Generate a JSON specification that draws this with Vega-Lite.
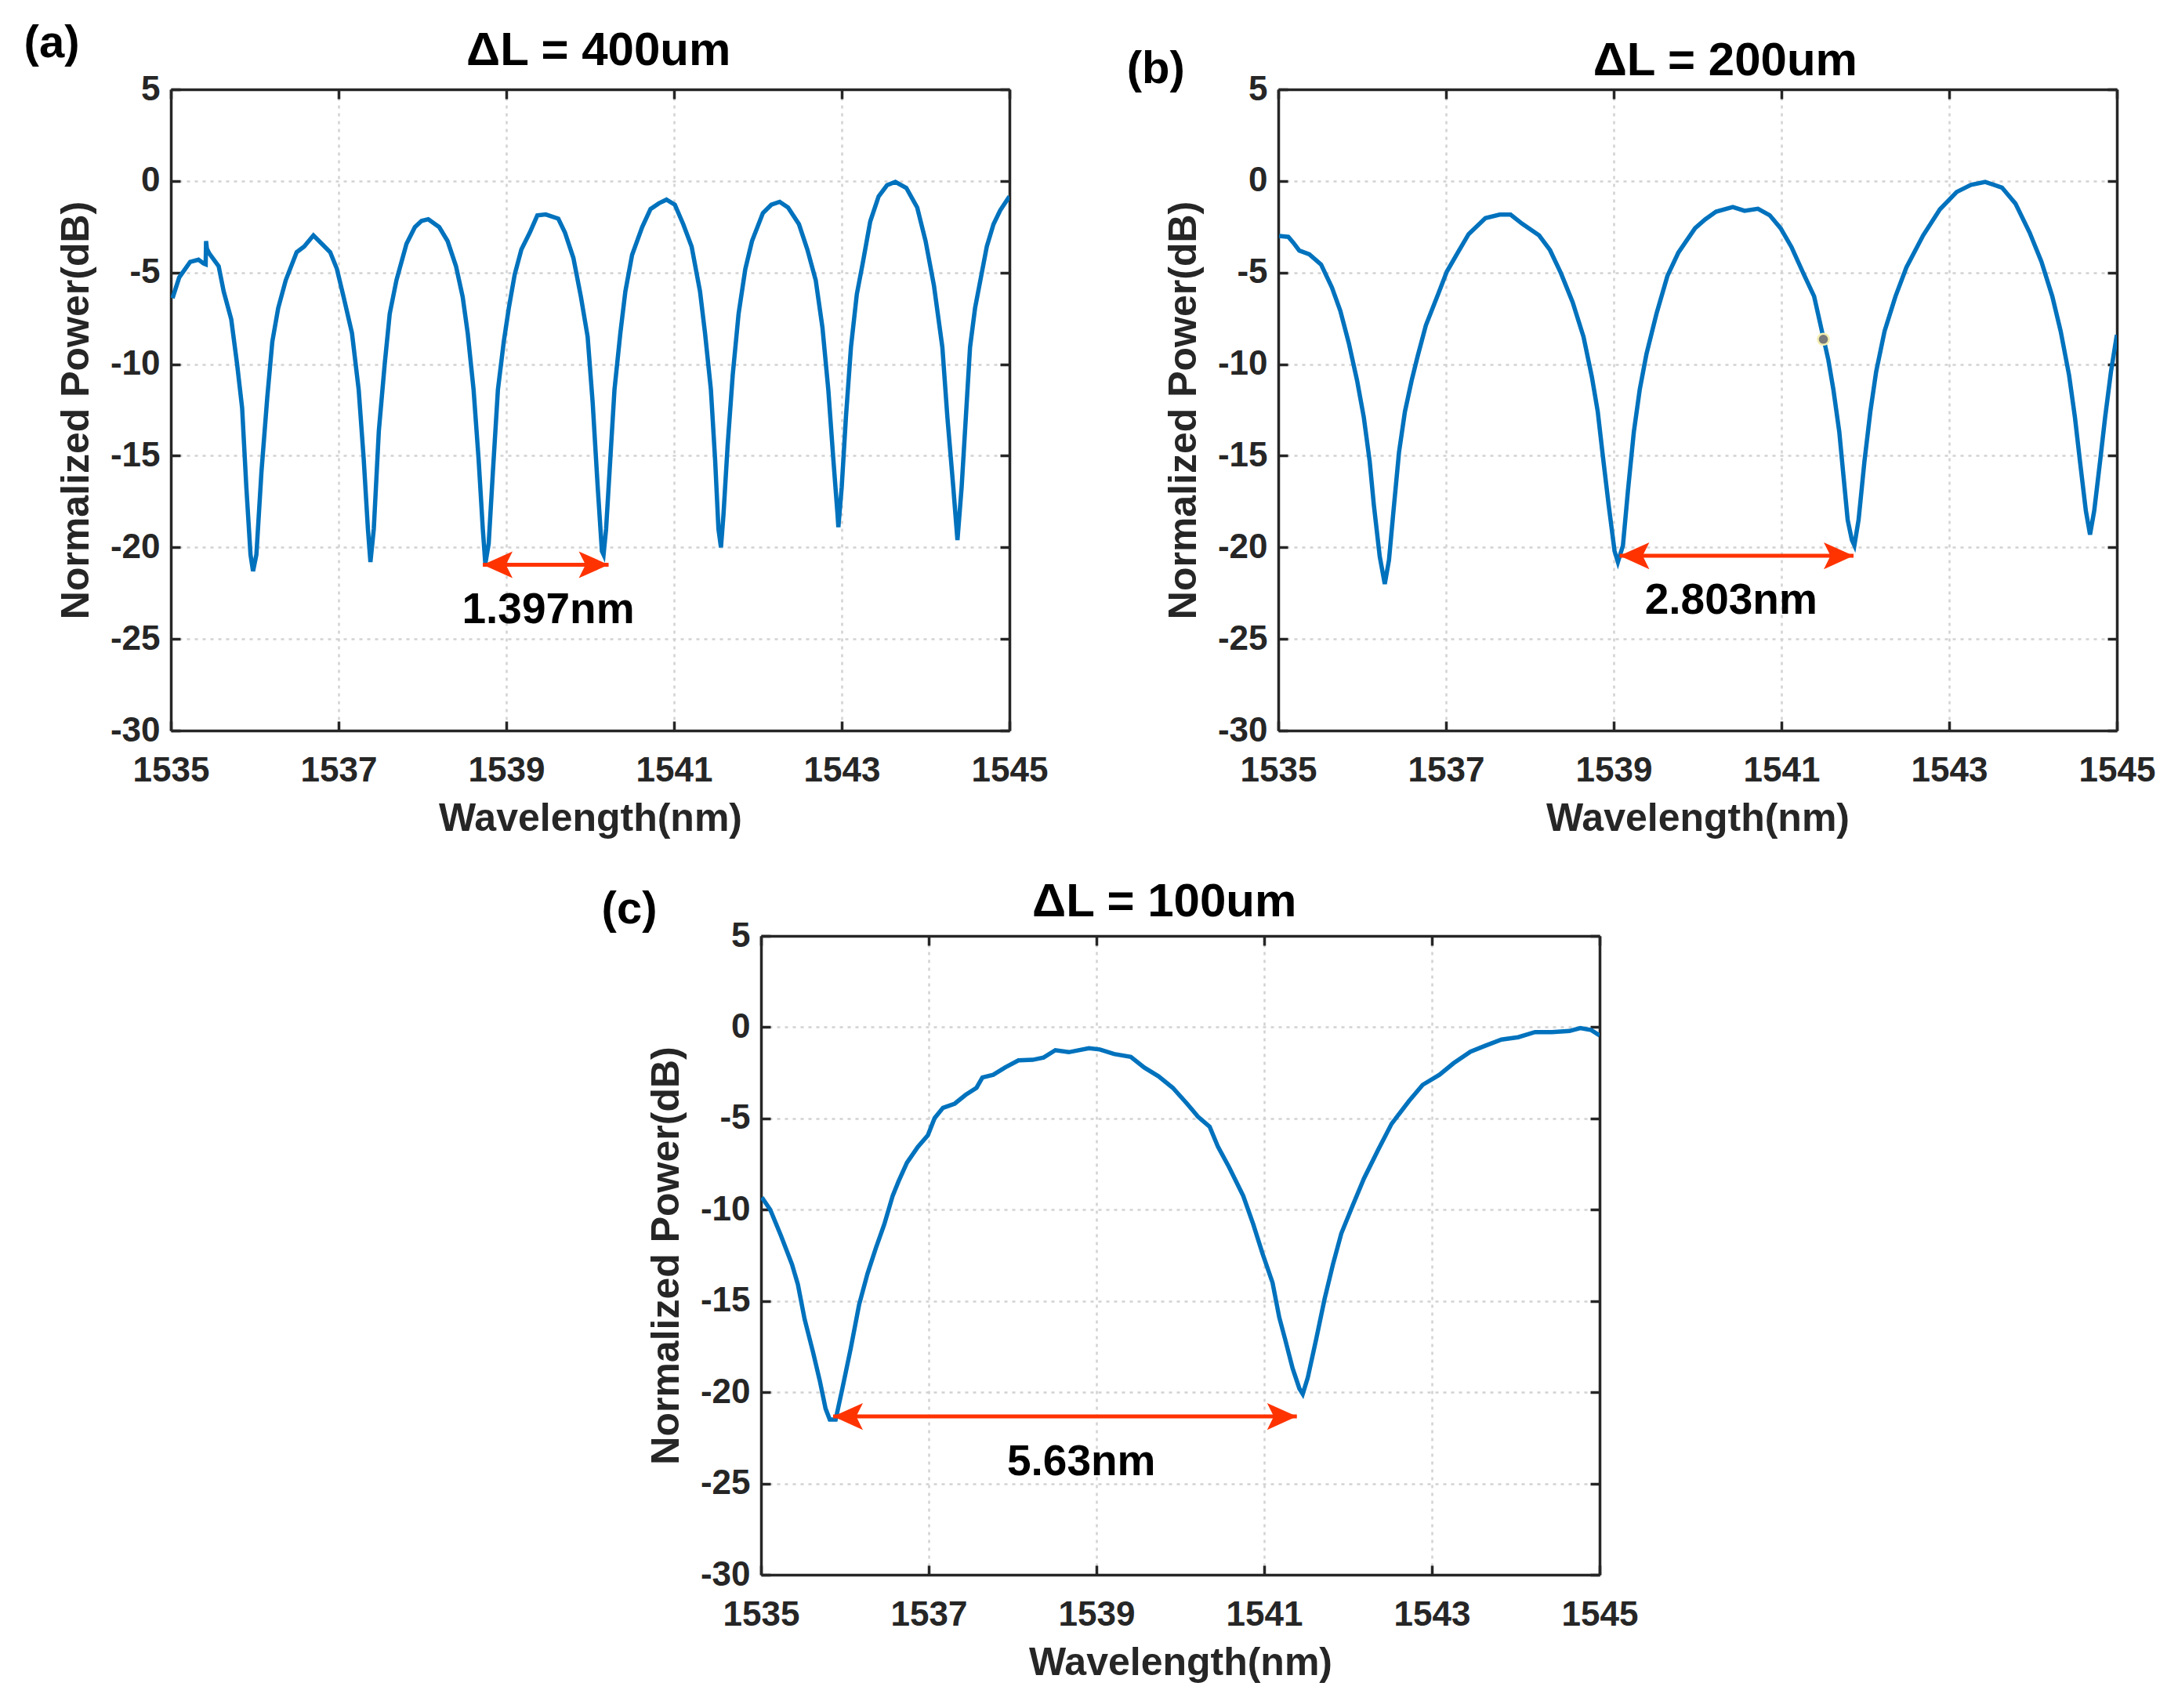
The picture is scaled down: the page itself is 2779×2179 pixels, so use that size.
{
  "$schema": "https://vega.github.io/schema/vega-lite/v6.json",
  "background": "white",
  "padding": {"left": 30, "top": 26, "right": 10, "bottom": 5},
  "config": {
    "font": "Liberation Sans",
    "view": {"stroke": null},
    "axis": {
      "labelFont": "Liberation Sans", "labelFontSize": 44, "labelFontWeight": "bold", "labelColor": "#262626",
      "titleFont": "Liberation Sans", "titleFontSize": 50, "titleFontWeight": "bold", "titleColor": "#262626",
      "domainColor": "#262626", "domainWidth": 3.5, "tickColor": "#262626", "tickWidth": 3.5, "tickSize": -12,
      "gridColor": "#d2d2d2", "gridWidth": 2.5, "gridDash": [4, 6],
      "labelFlush": false, "labelOverlap": false, "labelBound": false
    },
    "axisX": {"labelPadding": 41, "titlePadding": 14},
    "axisY": {"labelPadding": 26, "titlePadding": 18}
  },
  "datasets": {
    "a": [
      {"wl":1535.02,"p":-6.4},{"wl":1535.1,"p":-5.26},{"wl":1535.23,"p":-4.42},{"wl":1535.33,"p":-4.3},{"wl":1535.39,"p":-4.5},{"wl":1535.415,"p":-4.55},{"wl":1535.42,"p":-3.28},{"wl":1535.43,"p":-3.7},{"wl":1535.46,"p":-3.97},{"wl":1535.57,"p":-4.65},{"wl":1535.63,"p":-6.03},{"wl":1535.72,"p":-7.55},{"wl":1535.79,"p":-10.0},{"wl":1535.85,"p":-12.4},{"wl":1535.9,"p":-16.7},{"wl":1535.95,"p":-20.4},{"wl":1535.98,"p":-21.3},{"wl":1536.02,"p":-20.4},{"wl":1536.08,"p":-15.9},{"wl":1536.15,"p":-11.8},{"wl":1536.21,"p":-8.77},{"wl":1536.28,"p":-6.94},{"wl":1536.37,"p":-5.42},{"wl":1536.5,"p":-3.89},{"wl":1536.59,"p":-3.58},{"wl":1536.7,"p":-2.97},{"wl":1536.8,"p":-3.43},{"wl":1536.9,"p":-3.89},{"wl":1536.98,"p":-4.8},{"wl":1537.06,"p":-6.33},{"wl":1537.16,"p":-8.31},{"wl":1537.24,"p":-11.4},{"wl":1537.3,"p":-15.2},{"wl":1537.35,"p":-19.0},{"wl":1537.38,"p":-20.8},{"wl":1537.42,"p":-19.0},{"wl":1537.48,"p":-13.65},{"wl":1537.55,"p":-10.0},{"wl":1537.61,"p":-7.25},{"wl":1537.69,"p":-5.42},{"wl":1537.81,"p":-3.43},{"wl":1537.91,"p":-2.52},{"wl":1537.99,"p":-2.18},{"wl":1538.07,"p":-2.09},{"wl":1538.2,"p":-2.52},{"wl":1538.3,"p":-3.28},{"wl":1538.4,"p":-4.65},{"wl":1538.48,"p":-6.33},{"wl":1538.54,"p":-8.31},{"wl":1538.61,"p":-11.4},{"wl":1538.67,"p":-15.2},{"wl":1538.72,"p":-19.0},{"wl":1538.75,"p":-20.9},{"wl":1538.79,"p":-19.8},{"wl":1538.84,"p":-15.9},{"wl":1538.9,"p":-11.4},{"wl":1538.97,"p":-8.77},{"wl":1539.03,"p":-6.94},{"wl":1539.1,"p":-5.11},{"wl":1539.18,"p":-3.74},{"wl":1539.28,"p":-2.82},{"wl":1539.37,"p":-1.88},{"wl":1539.47,"p":-1.83},{"wl":1539.62,"p":-2.06},{"wl":1539.7,"p":-2.82},{"wl":1539.8,"p":-4.2},{"wl":1539.89,"p":-6.33},{"wl":1539.97,"p":-8.5},{"wl":1540.03,"p":-12.1},{"wl":1540.09,"p":-16.7},{"wl":1540.14,"p":-20.2},{"wl":1540.16,"p":-20.4},{"wl":1540.19,"p":-19.0},{"wl":1540.24,"p":-15.2},{"wl":1540.29,"p":-11.4},{"wl":1540.36,"p":-8.31},{"wl":1540.42,"p":-6.03},{"wl":1540.5,"p":-4.04},{"wl":1540.62,"p":-2.52},{"wl":1540.72,"p":-1.53},{"wl":1540.82,"p":-1.22},{"wl":1540.91,"p":-1.02},{"wl":1541.01,"p":-1.3},{"wl":1541.11,"p":-2.36},{"wl":1541.21,"p":-3.58},{"wl":1541.31,"p":-6.03},{"wl":1541.37,"p":-8.31},{"wl":1541.44,"p":-11.4},{"wl":1541.49,"p":-15.2},{"wl":1541.53,"p":-19.0},{"wl":1541.56,"p":-20.0},{"wl":1541.59,"p":-18.2},{"wl":1541.64,"p":-14.4},{"wl":1541.7,"p":-10.6},{"wl":1541.77,"p":-7.25},{"wl":1541.85,"p":-4.81},{"wl":1541.93,"p":-3.28},{"wl":1542.06,"p":-1.75},{"wl":1542.16,"p":-1.3},{"wl":1542.26,"p":-1.14},{"wl":1542.36,"p":-1.45},{"wl":1542.49,"p":-2.36},{"wl":1542.59,"p":-3.74},{"wl":1542.69,"p":-5.42},{"wl":1542.77,"p":-8.0},{"wl":1542.84,"p":-11.4},{"wl":1542.9,"p":-15.2},{"wl":1542.95,"p":-18.2},{"wl":1542.96,"p":-18.9},{"wl":1543.0,"p":-16.7},{"wl":1543.05,"p":-12.9},{"wl":1543.11,"p":-9.08},{"wl":1543.18,"p":-6.18},{"wl":1543.25,"p":-4.5},{"wl":1543.34,"p":-2.21},{"wl":1543.44,"p":-0.84},{"wl":1543.54,"p":-0.23},{"wl":1543.64,"p":-0.05},{"wl":1543.77,"p":-0.38},{"wl":1543.9,"p":-1.45},{"wl":1544.0,"p":-3.28},{"wl":1544.1,"p":-5.72},{"wl":1544.2,"p":-9.08},{"wl":1544.26,"p":-12.9},{"wl":1544.33,"p":-16.7},{"wl":1544.38,"p":-19.6},{"wl":1544.43,"p":-16.7},{"wl":1544.48,"p":-12.9},{"wl":1544.53,"p":-9.08},{"wl":1544.59,"p":-6.94},{"wl":1544.66,"p":-5.26},{"wl":1544.73,"p":-3.58},{"wl":1544.81,"p":-2.36},{"wl":1544.89,"p":-1.6},{"wl":1545.0,"p":-0.84}
    ],
    "b": [
      {"wl":1535.01,"p":-3.0},{"wl":1535.12,"p":-3.05},{"wl":1535.18,"p":-3.37},{"wl":1535.25,"p":-3.8},{"wl":1535.37,"p":-4.0},{"wl":1535.51,"p":-4.56},{"wl":1535.64,"p":-5.82},{"wl":1535.74,"p":-7.09},{"wl":1535.84,"p":-8.83},{"wl":1535.94,"p":-10.9},{"wl":1536.02,"p":-12.9},{"wl":1536.09,"p":-15.3},{"wl":1536.14,"p":-17.7},{"wl":1536.21,"p":-20.5},{"wl":1536.27,"p":-22.0},{"wl":1536.32,"p":-20.7},{"wl":1536.37,"p":-18.2},{"wl":1536.44,"p":-14.8},{"wl":1536.51,"p":-12.6},{"wl":1536.59,"p":-10.9},{"wl":1536.66,"p":-9.6},{"wl":1536.76,"p":-7.88},{"wl":1536.91,"p":-6.14},{"wl":1537.01,"p":-4.95},{"wl":1537.14,"p":-3.92},{"wl":1537.27,"p":-2.9},{"wl":1537.47,"p":-2.03},{"wl":1537.64,"p":-1.84},{"wl":1537.77,"p":-1.84},{"wl":1537.91,"p":-2.34},{"wl":1538.11,"p":-2.97},{"wl":1538.24,"p":-3.77},{"wl":1538.37,"p":-5.03},{"wl":1538.51,"p":-6.61},{"wl":1538.64,"p":-8.51},{"wl":1538.74,"p":-10.7},{"wl":1538.81,"p":-12.6},{"wl":1538.87,"p":-15.0},{"wl":1538.94,"p":-17.7},{"wl":1539.01,"p":-20.2},{"wl":1539.05,"p":-20.8},{"wl":1539.11,"p":-19.9},{"wl":1539.17,"p":-16.9},{"wl":1539.24,"p":-13.7},{"wl":1539.31,"p":-11.4},{"wl":1539.39,"p":-9.46},{"wl":1539.51,"p":-7.25},{"wl":1539.64,"p":-5.19},{"wl":1539.77,"p":-3.92},{"wl":1539.97,"p":-2.58},{"wl":1540.09,"p":-2.1},{"wl":1540.22,"p":-1.68},{"wl":1540.42,"p":-1.42},{"wl":1540.56,"p":-1.63},{"wl":1540.72,"p":-1.52},{"wl":1540.86,"p":-1.87},{"wl":1540.99,"p":-2.58},{"wl":1541.12,"p":-3.61},{"wl":1541.26,"p":-5.03},{"wl":1541.39,"p":-6.3},{"wl":1541.49,"p":-8.35},{"wl":1541.56,"p":-9.78},{"wl":1541.62,"p":-11.4},{"wl":1541.69,"p":-13.7},{"wl":1541.74,"p":-16.1},{"wl":1541.79,"p":-18.5},{"wl":1541.84,"p":-19.6},{"wl":1541.87,"p":-19.9},{"wl":1541.92,"p":-18.5},{"wl":1541.99,"p":-15.3},{"wl":1542.06,"p":-12.6},{"wl":1542.13,"p":-10.4},{"wl":1542.23,"p":-8.2},{"wl":1542.36,"p":-6.3},{"wl":1542.49,"p":-4.72},{"wl":1542.69,"p":-2.97},{"wl":1542.89,"p":-1.55},{"wl":1543.09,"p":-0.6},{"wl":1543.26,"p":-0.21},{"wl":1543.43,"p":-0.05},{"wl":1543.63,"p":-0.36},{"wl":1543.79,"p":-1.23},{"wl":1543.96,"p":-2.82},{"wl":1544.1,"p":-4.4},{"wl":1544.23,"p":-6.3},{"wl":1544.33,"p":-8.2},{"wl":1544.43,"p":-10.6},{"wl":1544.5,"p":-12.9},{"wl":1544.56,"p":-15.3},{"wl":1544.63,"p":-18.0},{"wl":1544.68,"p":-19.3},{"wl":1544.73,"p":-18.0},{"wl":1544.8,"p":-15.3},{"wl":1544.86,"p":-12.9},{"wl":1544.93,"p":-10.4},{"wl":1545.0,"p":-8.4}
    ],
    "c": [
      {"wl":1535.01,"p":-9.32},{"wl":1535.11,"p":-10.0},{"wl":1535.24,"p":-11.45},{"wl":1535.37,"p":-13.0},{"wl":1535.44,"p":-14.1},{"wl":1535.52,"p":-16.0},{"wl":1535.62,"p":-17.8},{"wl":1535.7,"p":-19.35},{"wl":1535.77,"p":-20.9},{"wl":1535.82,"p":-21.5},{"wl":1535.89,"p":-21.5},{"wl":1535.97,"p":-19.8},{"wl":1536.07,"p":-17.6},{"wl":1536.17,"p":-15.2},{"wl":1536.27,"p":-13.5},{"wl":1536.37,"p":-12.1},{"wl":1536.47,"p":-10.8},{"wl":1536.57,"p":-9.24},{"wl":1536.64,"p":-8.45},{"wl":1536.74,"p":-7.43},{"wl":1536.87,"p":-6.56},{"wl":1536.99,"p":-5.92},{"wl":1537.07,"p":-4.98},{"wl":1537.17,"p":-4.42},{"wl":1537.31,"p":-4.19},{"wl":1537.44,"p":-3.71},{"wl":1537.57,"p":-3.32},{"wl":1537.64,"p":-2.76},{"wl":1537.77,"p":-2.61},{"wl":1537.91,"p":-2.21},{"wl":1538.07,"p":-1.82},{"wl":1538.24,"p":-1.79},{"wl":1538.37,"p":-1.66},{"wl":1538.51,"p":-1.26},{"wl":1538.67,"p":-1.37},{"wl":1538.91,"p":-1.15},{"wl":1539.04,"p":-1.22},{"wl":1539.21,"p":-1.47},{"wl":1539.41,"p":-1.63},{"wl":1539.57,"p":-2.21},{"wl":1539.74,"p":-2.69},{"wl":1539.91,"p":-3.32},{"wl":1540.08,"p":-4.19},{"wl":1540.21,"p":-4.9},{"wl":1540.35,"p":-5.45},{"wl":1540.45,"p":-6.56},{"wl":1540.58,"p":-7.66},{"wl":1540.75,"p":-9.24},{"wl":1540.87,"p":-10.8},{"wl":1540.98,"p":-12.4},{"wl":1541.1,"p":-14.0},{"wl":1541.18,"p":-15.9},{"wl":1541.25,"p":-17.1},{"wl":1541.34,"p":-18.7},{"wl":1541.42,"p":-19.8},{"wl":1541.46,"p":-20.1},{"wl":1541.52,"p":-19.2},{"wl":1541.62,"p":-17.1},{"wl":1541.72,"p":-14.9},{"wl":1541.82,"p":-13.0},{"wl":1541.92,"p":-11.3},{"wl":1542.06,"p":-9.72},{"wl":1542.19,"p":-8.29},{"wl":1542.36,"p":-6.71},{"wl":1542.52,"p":-5.29},{"wl":1542.73,"p":-4.03},{"wl":1542.89,"p":-3.16},{"wl":1543.09,"p":-2.61},{"wl":1543.26,"p":-1.97},{"wl":1543.46,"p":-1.34},{"wl":1543.63,"p":-1.03},{"wl":1543.83,"p":-0.68},{"wl":1544.03,"p":-0.55},{"wl":1544.23,"p":-0.27},{"wl":1544.43,"p":-0.27},{"wl":1544.64,"p":-0.21},{"wl":1544.77,"p":-0.05},{"wl":1544.9,"p":-0.16},{"wl":1545.0,"p":-0.45}
    ],
    "fsr_a": [{"x1": 1538.72, "x2": 1540.22, "y": -20.95, "label": "1.397nm", "tx": 1539.5, "ty": -23.4}],
    "fsr_b": [{"x1": 1539.07, "x2": 1541.86, "y": -20.46, "label": "2.803nm", "tx": 1540.4, "ty": -22.9}],
    "fsr_c": [{"x1": 1535.86, "x2": 1541.39, "y": -21.33, "label": "5.63nm", "tx": 1538.82, "ty": -23.8}],
    "marker_b": [{"wl": 1541.5, "p": -8.64}],
    "one": [{}]
  },
  "spacing": 52,
  "vconcat": [
    {
      "hconcat": [
        {
          "width": 1070, "height": 818,
          "layer": [
            {
              "data": {"name": "a"},
              "mark": {"type": "line", "color": "#0072BD", "strokeWidth": 5.5, "clip": true},
              "encoding": {
                "x": {"field": "wl", "type": "quantitative", "scale": {"domain": [1535, 1545], "nice": false, "zero": false},
                      "axis": {"orient": "bottom", "values": [1535, 1537, 1539, 1541, 1543, 1545], "format": "d", "title": "Wavelength(nm)", "grid": true}},
                "y": {"field": "p", "type": "quantitative", "scale": {"domain": [-30, 5], "nice": false, "zero": false},
                      "axis": {"orient": "left", "values": [-30, -25, -20, -15, -10, -5, 0, 5], "labelExpr": "'' + datum.value", "title": "Normalized Power(dB)", "grid": true}}
              }
            },
            {
              "data": {"name": "fsr_a"},
              "mark": {"type": "rule", "color": "#FF3300", "strokeWidth": 5},
              "encoding": {
                "x": {"field": "x1", "type": "quantitative", "scale": {"domain": [1535, 1545], "nice": false, "zero": false},
                      "axis": {"orient": "top", "values": [1535, 1537, 1539, 1541, 1543, 1545], "labels": false, "title": null, "grid": false}},
                "x2": {"field": "x2"},
                "y": {"field": "y", "type": "quantitative", "scale": {"domain": [-30, 5], "nice": false, "zero": false},
                      "axis": {"orient": "right", "values": [-30, -25, -20, -15, -10, -5, 0, 5], "labels": false, "title": null, "grid": false}}
              }
            },
            {
              "data": {"name": "fsr_a"},
              "mark": {"type": "point", "shape": "M-1,0L1,-0.9L0.55,0L1,0.9Z", "filled": true, "color": "#FF3300", "opacity": 1, "size": 1444, "xOffset": 19},
              "encoding": {"x": {"field": "x1", "type": "quantitative", "axis": null}, "y": {"field": "y", "type": "quantitative", "axis": null}}
            },
            {
              "data": {"name": "fsr_a"},
              "mark": {"type": "point", "shape": "M1,0L-1,-0.9L-0.55,0L-1,0.9Z", "filled": true, "color": "#FF3300", "opacity": 1, "size": 1444, "xOffset": -19},
              "encoding": {"x": {"field": "x2", "type": "quantitative", "axis": null}, "y": {"field": "y", "type": "quantitative", "axis": null}}
            },
            {
              "data": {"name": "fsr_a"},
              "mark": {"type": "text", "font": "Liberation Sans", "fontSize": 55, "fontWeight": "bold", "color": "#000000", "align": "center", "baseline": "middle"},
              "encoding": {"x": {"field": "tx", "type": "quantitative", "axis": null}, "y": {"field": "ty", "type": "quantitative", "axis": null}, "text": {"field": "label"}}
            },
            {
              "data": {"name": "one"},
              "mark": {"type": "text", "font": "Liberation Sans", "fontSize": 60, "fontWeight": "bold", "color": "#000000", "align": "center", "baseline": "alphabetic", "text": "ΔL = 400um"},
              "encoding": {"x": {"datum": 1540.1, "type": "quantitative", "axis": null}, "y": {"datum": 6.32, "type": "quantitative", "axis": null}}
            },
            {
              "data": {"name": "one"},
              "mark": {"type": "text", "font": "Liberation Sans", "fontSize": 58, "fontWeight": "bold", "color": "#000000", "align": "center", "baseline": "middle", "text": "(a)"},
              "encoding": {"x": {"datum": 1533.58, "type": "quantitative", "axis": null}, "y": {"datum": 7.5, "type": "quantitative", "axis": null}}
            }
          ],
          "resolve": {"axis": {"x": "independent", "y": "independent"}}
        },
        {
          "width": 1070, "height": 818,
          "layer": [
            {
              "data": {"name": "b"},
              "mark": {"type": "line", "color": "#0072BD", "strokeWidth": 5.5, "clip": true},
              "encoding": {
                "x": {"field": "wl", "type": "quantitative", "scale": {"domain": [1535, 1545], "nice": false, "zero": false},
                      "axis": {"orient": "bottom", "values": [1535, 1537, 1539, 1541, 1543, 1545], "format": "d", "title": "Wavelength(nm)", "grid": true}},
                "y": {"field": "p", "type": "quantitative", "scale": {"domain": [-30, 5], "nice": false, "zero": false},
                      "axis": {"orient": "left", "values": [-30, -25, -20, -15, -10, -5, 0, 5], "labelExpr": "'' + datum.value", "title": "Normalized Power(dB)", "grid": true}}
              }
            },
            {
              "data": {"name": "fsr_b"},
              "mark": {"type": "rule", "color": "#FF3300", "strokeWidth": 5},
              "encoding": {
                "x": {"field": "x1", "type": "quantitative", "scale": {"domain": [1535, 1545], "nice": false, "zero": false},
                      "axis": {"orient": "top", "values": [1535, 1537, 1539, 1541, 1543, 1545], "labels": false, "title": null, "grid": false}},
                "x2": {"field": "x2"},
                "y": {"field": "y", "type": "quantitative", "scale": {"domain": [-30, 5], "nice": false, "zero": false},
                      "axis": {"orient": "right", "values": [-30, -25, -20, -15, -10, -5, 0, 5], "labels": false, "title": null, "grid": false}}
              }
            },
            {
              "data": {"name": "fsr_b"},
              "mark": {"type": "point", "shape": "M-1,0L1,-0.9L0.55,0L1,0.9Z", "filled": true, "color": "#FF3300", "opacity": 1, "size": 1444, "xOffset": 19},
              "encoding": {"x": {"field": "x1", "type": "quantitative", "axis": null}, "y": {"field": "y", "type": "quantitative", "axis": null}}
            },
            {
              "data": {"name": "fsr_b"},
              "mark": {"type": "point", "shape": "M1,0L-1,-0.9L-0.55,0L-1,0.9Z", "filled": true, "color": "#FF3300", "opacity": 1, "size": 1444, "xOffset": -19},
              "encoding": {"x": {"field": "x2", "type": "quantitative", "axis": null}, "y": {"field": "y", "type": "quantitative", "axis": null}}
            },
            {
              "data": {"name": "fsr_b"},
              "mark": {"type": "text", "font": "Liberation Sans", "fontSize": 55, "fontWeight": "bold", "color": "#000000", "align": "center", "baseline": "middle"},
              "encoding": {"x": {"field": "tx", "type": "quantitative", "axis": null}, "y": {"field": "ty", "type": "quantitative", "axis": null}, "text": {"field": "label"}}
            },
            {
              "data": {"name": "marker_b"},
              "mark": {"type": "point", "shape": "circle", "filled": true, "color": "#7a7a7a", "opacity": 1, "size": 200, "stroke": "#f3eeb0", "strokeWidth": 2.5},
              "encoding": {"x": {"field": "wl", "type": "quantitative", "axis": null}, "y": {"field": "p", "type": "quantitative", "axis": null}}
            },
            {
              "data": {"name": "one"},
              "mark": {"type": "text", "font": "Liberation Sans", "fontSize": 60, "fontWeight": "bold", "color": "#000000", "align": "center", "baseline": "alphabetic", "text": "ΔL = 200um"},
              "encoding": {"x": {"datum": 1540.33, "type": "quantitative", "axis": null}, "y": {"datum": 5.77, "type": "quantitative", "axis": null}}
            },
            {
              "data": {"name": "one"},
              "mark": {"type": "text", "font": "Liberation Sans", "fontSize": 58, "fontWeight": "bold", "color": "#000000", "align": "center", "baseline": "middle", "text": "(b)"},
              "encoding": {"x": {"datum": 1533.54, "type": "quantitative", "axis": null}, "y": {"datum": 6.07, "type": "quantitative", "axis": null}}
            }
          ],
          "resolve": {"axis": {"x": "independent", "y": "independent"}}
        }
      ],
      "spacing": 343,
      "bounds": "flush"
    },
    {
      "hconcat": [
        {
          "width": 753, "height": 10,
          "data": {"name": "one"},
          "mark": {"type": "point", "opacity": 0}
        },
        {
          "width": 1070, "height": 815,
          "layer": [
            {
              "data": {"name": "c"},
              "mark": {"type": "line", "color": "#0072BD", "strokeWidth": 5.5, "clip": true},
              "encoding": {
                "x": {"field": "wl", "type": "quantitative", "scale": {"domain": [1535, 1545], "nice": false, "zero": false},
                      "axis": {"orient": "bottom", "values": [1535, 1537, 1539, 1541, 1543, 1545], "format": "d", "title": "Wavelength(nm)", "grid": true}},
                "y": {"field": "p", "type": "quantitative", "scale": {"domain": [-30, 5], "nice": false, "zero": false},
                      "axis": {"orient": "left", "values": [-30, -25, -20, -15, -10, -5, 0, 5], "labelExpr": "'' + datum.value", "title": "Normalized Power(dB)", "grid": true}}
              }
            },
            {
              "data": {"name": "fsr_c"},
              "mark": {"type": "rule", "color": "#FF3300", "strokeWidth": 5},
              "encoding": {
                "x": {"field": "x1", "type": "quantitative", "scale": {"domain": [1535, 1545], "nice": false, "zero": false},
                      "axis": {"orient": "top", "values": [1535, 1537, 1539, 1541, 1543, 1545], "labels": false, "title": null, "grid": false}},
                "x2": {"field": "x2"},
                "y": {"field": "y", "type": "quantitative", "scale": {"domain": [-30, 5], "nice": false, "zero": false},
                      "axis": {"orient": "right", "values": [-30, -25, -20, -15, -10, -5, 0, 5], "labels": false, "title": null, "grid": false}}
              }
            },
            {
              "data": {"name": "fsr_c"},
              "mark": {"type": "point", "shape": "M-1,0L1,-0.9L0.55,0L1,0.9Z", "filled": true, "color": "#FF3300", "opacity": 1, "size": 1444, "xOffset": 19},
              "encoding": {"x": {"field": "x1", "type": "quantitative", "axis": null}, "y": {"field": "y", "type": "quantitative", "axis": null}}
            },
            {
              "data": {"name": "fsr_c"},
              "mark": {"type": "point", "shape": "M1,0L-1,-0.9L-0.55,0L-1,0.9Z", "filled": true, "color": "#FF3300", "opacity": 1, "size": 1444, "xOffset": -19},
              "encoding": {"x": {"field": "x2", "type": "quantitative", "axis": null}, "y": {"field": "y", "type": "quantitative", "axis": null}}
            },
            {
              "data": {"name": "fsr_c"},
              "mark": {"type": "text", "font": "Liberation Sans", "fontSize": 55, "fontWeight": "bold", "color": "#000000", "align": "center", "baseline": "middle"},
              "encoding": {"x": {"field": "tx", "type": "quantitative", "axis": null}, "y": {"field": "ty", "type": "quantitative", "axis": null}, "text": {"field": "label"}}
            },
            {
              "data": {"name": "one"},
              "mark": {"type": "text", "font": "Liberation Sans", "fontSize": 60, "fontWeight": "bold", "color": "#000000", "align": "center", "baseline": "alphabetic", "text": "ΔL = 100um"},
              "encoding": {"x": {"datum": 1539.81, "type": "quantitative", "axis": null}, "y": {"datum": 6.07, "type": "quantitative", "axis": null}}
            },
            {
              "data": {"name": "one"},
              "mark": {"type": "text", "font": "Liberation Sans", "fontSize": 58, "fontWeight": "bold", "color": "#000000", "align": "center", "baseline": "middle", "text": "(c)"},
              "encoding": {"x": {"datum": 1533.43, "type": "quantitative", "axis": null}, "y": {"datum": 6.4, "type": "quantitative", "axis": null}}
            }
          ],
          "resolve": {"axis": {"x": "independent", "y": "independent"}}
        }
      ],
      "spacing": 0,
      "bounds": "flush"
    }
  ]
}
